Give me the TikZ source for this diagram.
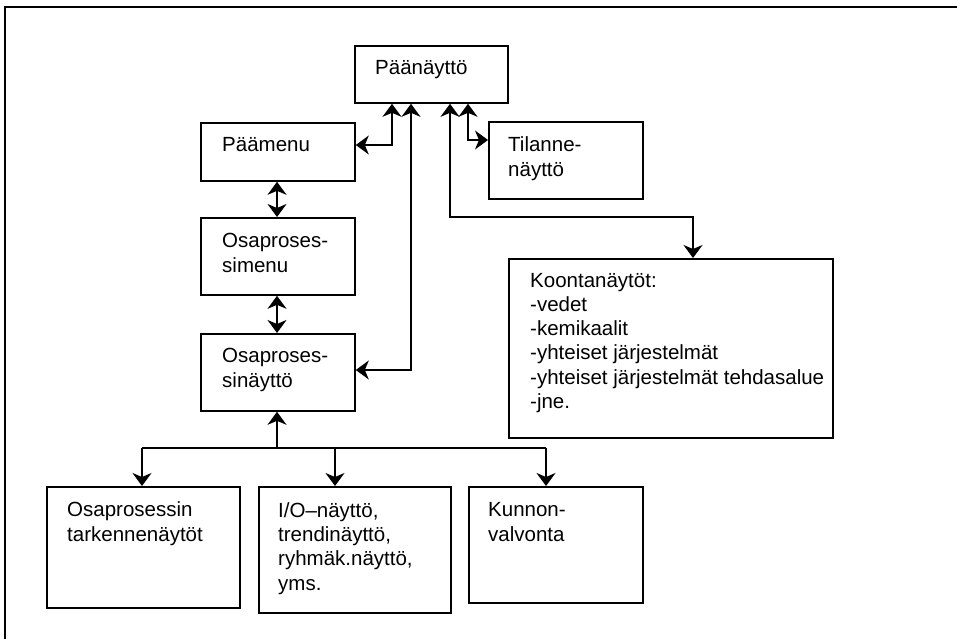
\documentclass[tikz,border=0pt]{standalone}
\usepackage{fontspec}
\setmainfont{Liberation Sans}
\usetikzlibrary{arrows.meta}
\begin{document}
\begin{tikzpicture}[x=1pt,y=-1pt,
  box/.style={draw,line width=1.8pt,rectangle,inner sep=0pt,anchor=north west},
  lbl/.style={anchor=base west,inner sep=0pt,font=\fontsize{20.5}{24.3}\selectfont,align=left},
  conn/.style={line width=1.4pt,{Stealth[length=13pt,width=19pt,inset=4pt]}-{Stealth[length=13pt,width=19pt,inset=4pt]}},
  fwd/.style={line width=1.4pt,-{Stealth[length=13pt,width=19pt,inset=4pt]}},
  plain/.style={line width=1.4pt}
]
\useasboundingbox (0,0) rectangle (957,639);
\draw[line width=2pt] (957,7) -- (5,7) -- (5,639);

% boxes
\node[box,minimum width=153pt,minimum height=57pt] (paa) at (354,45) {};
\node[box,minimum width=154pt,minimum height=58pt] (menu) at (200,122) {};
\node[box,minimum width=154pt,minimum height=77pt] (tila) at (488,121) {};
\node[box,minimum width=154pt,minimum height=77pt] (simenu) at (200,217) {};
\node[box,minimum width=154pt,minimum height=77pt] (sina) at (200,333) {};
\node[box,minimum width=324pt,minimum height=179pt] (koonta) at (508,258) {};
\node[box,minimum width=193pt,minimum height=121pt] (b1) at (46,486) {};
\node[box,minimum width=192pt,minimum height=126pt] (b2) at (258,486) {};
\node[box,minimum width=174pt,minimum height=116pt] (b3) at (468,486) {};

% labels (anchored at the baseline of their last line)
\node[lbl] (tpaa) at (375,75) {Päänäyttö};
\node[lbl] (tmenu) at (222,152) {Päämenu};
\node[lbl] (ttila) at (508,176) {Tilanne-\\näyttö};
\node[lbl] (tsimenu) at (222,272) {Osaproses-\\simenu};
\node[lbl] (tsina) at (222,387) {Osaproses-\\sinäyttö};
\node[lbl] (tkoonta) at (530,408.5) {Koontanäytöt:\\-vedet\\-kemikaalit\\-yhteiset järjestelmät\\-yhteiset järjestelmät tehdasalue\\-jne.};
\node[lbl] (tb1) at (67,541) {Osaprosessin\\tarkennenäytöt};
\node[lbl] (tb2) at (278,590) {I/O–näyttö,\\trendinäyttö,\\ryhmäk.näyttö,\\yms.};
\node[lbl] (tb3) at (488,541) {Kunnon-\\valvonta};

% connector coordinates
\coordinate (c1) at (392,145);
\coordinate (c2) at (411,370);
\coordinate (c3) at (450,217);
\coordinate (c3b) at (693,217);
\coordinate (c4) at (468,140);
\coordinate (c5) at (277,0);
\coordinate (hub) at (277,448);
\coordinate (h1) at (142,448);
\coordinate (h2) at (335,448);
\coordinate (h3) at (546,448);

\draw[conn] (c1 |- paa.south) -- (c1) -- (c1 -| menu.east);
\draw[conn] (c2 |- paa.south) -- (c2) -- (c2 -| sina.east);
\draw[conn] (c3 |- paa.south) -- (c3) -- (c3b) -- (c3b |- koonta.north);
\draw[conn] (c4 |- paa.south) -- (c4) -- (c4 -| tila.west);
\draw[conn] (c5 |- menu.south) -- (c5 |- simenu.north);
\draw[conn] (c5 |- simenu.south) -- (c5 |- sina.north);

\draw[fwd] (hub) -- (hub |- sina.south);
\draw[plain] (h1) -- (h3);
\draw[fwd] (h1) -- (h1 |- b1.north);
\draw[fwd] (h2) -- (h2 |- b2.north);
\draw[fwd] (h3) -- (h3 |- b3.north);
\end{tikzpicture}
\end{document}
